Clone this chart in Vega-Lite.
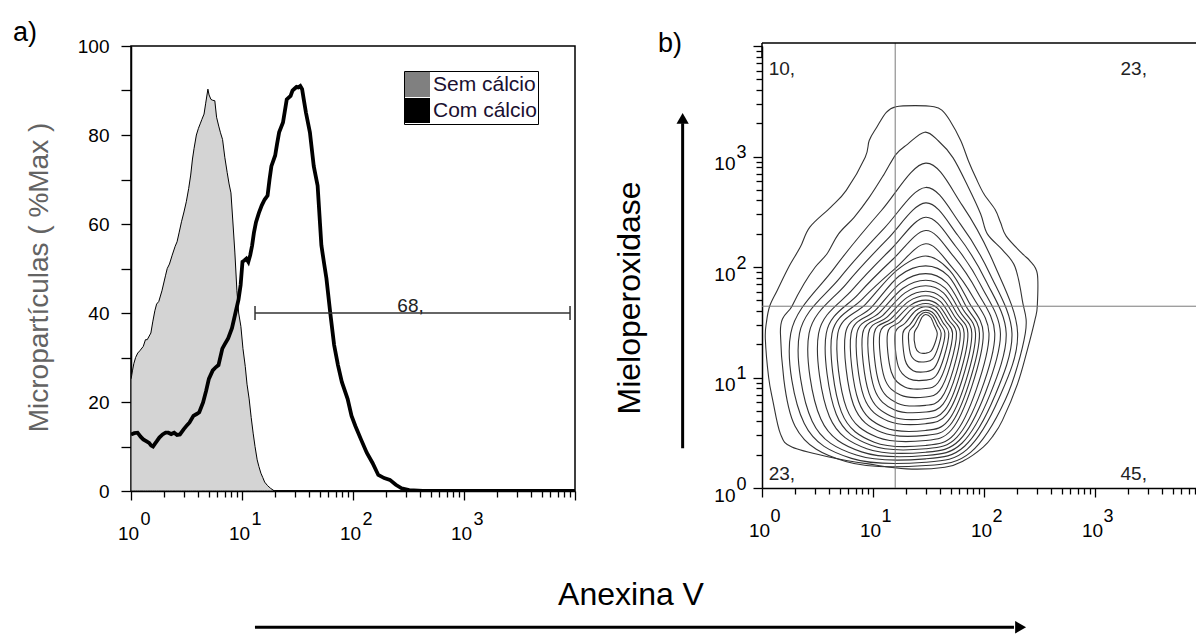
{
  "$schema": "https://vega.github.io/schema/vega-lite/v6.json",
  "padding": {"left": 12, "top": 18, "right": 0, "bottom": 0},
  "background": "white",
  "bounds": "flush",
  "spacing": 187,
  "config": {
    "font": "Liberation Sans",
    "view": {"stroke": "black", "strokeWidth": 1.5},
    "title": {"fontWeight": "normal", "font": "Liberation Sans", "color": "black"},
    "axis": {"domainColor": "black", "domainWidth": 1.5, "tickColor": "black", "tickWidth": 1.3, "labelColor": "black", "labelFont": "Liberation Sans", "labelFontSize": 19, "grid": false, "labelOverlap": false, "labelFlush": false, "labelBound": false, "titleFont": "Liberation Sans", "titleFontWeight": "normal"}
  },
  "datasets": {
    "hist": [
      {"serie": "Sem cálcio", "x": 1.0, "pct": 25}, {"serie": "Sem cálcio", "x": 1.03, "pct": 27}, {"serie": "Sem cálcio", "x": 1.06, "pct": 28.6}, {"serie": "Sem cálcio", "x": 1.1, "pct": 30}, {"serie": "Sem cálcio", "x": 1.15, "pct": 31}, {"serie": "Sem cálcio", "x": 1.2, "pct": 31.5}, {"serie": "Sem cálcio", "x": 1.29, "pct": 32.5}, {"serie": "Sem cálcio", "x": 1.35, "pct": 34}, {"serie": "Sem cálcio", "x": 1.4, "pct": 34}, {"serie": "Sem cálcio", "x": 1.51, "pct": 35.5}, {"serie": "Sem cálcio", "x": 1.57, "pct": 38}, {"serie": "Sem cálcio", "x": 1.64, "pct": 40.5}, {"serie": "Sem cálcio", "x": 1.7, "pct": 42}, {"serie": "Sem cálcio", "x": 1.78, "pct": 42.6}, {"serie": "Sem cálcio", "x": 1.9, "pct": 45}, {"serie": "Sem cálcio", "x": 2.05, "pct": 48.5}, {"serie": "Sem cálcio", "x": 2.12, "pct": 50}, {"serie": "Sem cálcio", "x": 2.22, "pct": 51}, {"serie": "Sem cálcio", "x": 2.35, "pct": 53}, {"serie": "Sem cálcio", "x": 2.5, "pct": 55}, {"serie": "Sem cálcio", "x": 2.6, "pct": 56}, {"serie": "Sem cálcio", "x": 2.71, "pct": 58}, {"serie": "Sem cálcio", "x": 2.85, "pct": 60.5}, {"serie": "Sem cálcio", "x": 3.0, "pct": 62.7}, {"serie": "Sem cálcio", "x": 3.15, "pct": 65}, {"serie": "Sem cálcio", "x": 3.31, "pct": 68}, {"serie": "Sem cálcio", "x": 3.45, "pct": 71}, {"serie": "Sem cálcio", "x": 3.58, "pct": 74.6}, {"serie": "Sem cálcio", "x": 3.7, "pct": 77}, {"serie": "Sem cálcio", "x": 3.88, "pct": 80}, {"serie": "Sem cálcio", "x": 4.05, "pct": 81.5}, {"serie": "Sem cálcio", "x": 4.2, "pct": 82.5}, {"serie": "Sem cálcio", "x": 4.35, "pct": 83.5}, {"serie": "Sem cálcio", "x": 4.55, "pct": 84.7}, {"serie": "Sem cálcio", "x": 4.7, "pct": 87}, {"serie": "Sem cálcio", "x": 4.93, "pct": 90.3}, {"serie": "Sem cálcio", "x": 5.05, "pct": 89}, {"serie": "Sem cálcio", "x": 5.25, "pct": 88}, {"serie": "Sem cálcio", "x": 5.45, "pct": 87.8}, {"serie": "Sem cálcio", "x": 5.69, "pct": 87.7}, {"serie": "Sem cálcio", "x": 5.9, "pct": 84}, {"serie": "Sem cálcio", "x": 6.17, "pct": 82}, {"serie": "Sem cálcio", "x": 6.4, "pct": 80.5}, {"serie": "Sem cálcio", "x": 6.68, "pct": 79}, {"serie": "Sem cálcio", "x": 7.0, "pct": 75}, {"serie": "Sem cálcio", "x": 7.35, "pct": 71.6}, {"serie": "Sem cálcio", "x": 7.65, "pct": 69}, {"serie": "Sem cálcio", "x": 7.95, "pct": 67}, {"serie": "Sem cálcio", "x": 8.3, "pct": 60}, {"serie": "Sem cálcio", "x": 8.62, "pct": 53.7}, {"serie": "Sem cálcio", "x": 9.0, "pct": 45}, {"serie": "Sem cálcio", "x": 9.33, "pct": 40}, {"serie": "Sem cálcio", "x": 9.77, "pct": 37}, {"serie": "Sem cálcio", "x": 10.2, "pct": 32}, {"serie": "Sem cálcio", "x": 10.7, "pct": 28}, {"serie": "Sem cálcio", "x": 11.1, "pct": 24}, {"serie": "Sem cálcio", "x": 11.6, "pct": 20.7}, {"serie": "Sem cálcio", "x": 12.1, "pct": 16.5}, {"serie": "Sem cálcio", "x": 12.6, "pct": 13}, {"serie": "Sem cálcio", "x": 13.1, "pct": 10}, {"serie": "Sem cálcio", "x": 13.7, "pct": 7}, {"serie": "Sem cálcio", "x": 14.2, "pct": 5.5}, {"serie": "Sem cálcio", "x": 14.8, "pct": 4}, {"serie": "Sem cálcio", "x": 15.4, "pct": 3}, {"serie": "Sem cálcio", "x": 16, "pct": 2}, {"serie": "Sem cálcio", "x": 17, "pct": 1.2}, {"serie": "Sem cálcio", "x": 18.1, "pct": 0.6}, {"serie": "Sem cálcio", "x": 19.6, "pct": 0}, {"serie": "Sem cálcio", "x": 100, "pct": 0}, {"serie": "Sem cálcio", "x": 10000, "pct": 0},
      {"serie": "Com cálcio", "x": 1.0, "pct": 12.7}, {"serie": "Com cálcio", "x": 1.07, "pct": 13}, {"serie": "Com cálcio", "x": 1.146, "pct": 13.1}, {"serie": "Com cálcio", "x": 1.22, "pct": 12.2}, {"serie": "Com cálcio", "x": 1.29, "pct": 11.6}, {"serie": "Com cálcio", "x": 1.37, "pct": 11.2}, {"serie": "Com cálcio", "x": 1.456, "pct": 10.8}, {"serie": "Com cálcio", "x": 1.52, "pct": 10.2}, {"serie": "Com cálcio", "x": 1.578, "pct": 10}, {"serie": "Com cálcio", "x": 1.64, "pct": 10.6}, {"serie": "Com cálcio", "x": 1.709, "pct": 11.2}, {"serie": "Com cálcio", "x": 1.8, "pct": 12}, {"serie": "Com cálcio", "x": 1.926, "pct": 12.7}, {"serie": "Com cálcio", "x": 2.05, "pct": 13.1}, {"serie": "Com cálcio", "x": 2.17, "pct": 13.1}, {"serie": "Com cálcio", "x": 2.3, "pct": 12.8}, {"serie": "Com cálcio", "x": 2.45, "pct": 13.1}, {"serie": "Com cálcio", "x": 2.6, "pct": 12.6}, {"serie": "Com cálcio", "x": 2.76, "pct": 12.7}, {"serie": "Com cálcio", "x": 2.99, "pct": 13.9}, {"serie": "Com cálcio", "x": 3.2, "pct": 14.8}, {"serie": "Com cálcio", "x": 3.37, "pct": 15.4}, {"serie": "Com cálcio", "x": 3.65, "pct": 16.9}, {"serie": "Com cálcio", "x": 3.9, "pct": 17.3}, {"serie": "Com cálcio", "x": 4.12, "pct": 17.7}, {"serie": "Com cálcio", "x": 4.46, "pct": 19.9}, {"serie": "Com cálcio", "x": 4.75, "pct": 22.5}, {"serie": "Com cálcio", "x": 5.03, "pct": 25.2}, {"serie": "Com cálcio", "x": 5.45, "pct": 27.1}, {"serie": "Com cálcio", "x": 5.8, "pct": 27.8}, {"serie": "Com cálcio", "x": 6.14, "pct": 28.3}, {"serie": "Com cálcio", "x": 6.65, "pct": 32}, {"serie": "Com cálcio", "x": 7.0, "pct": 33}, {"serie": "Com cálcio", "x": 7.5, "pct": 34.3}, {"serie": "Com cálcio", "x": 8.12, "pct": 36.6}, {"serie": "Com cálcio", "x": 8.8, "pct": 40.4}, {"serie": "Com cálcio", "x": 9.3, "pct": 43}, {"serie": "Com cálcio", "x": 9.72, "pct": 46.3}, {"serie": "Com cálcio", "x": 10.1, "pct": 51.5}, {"serie": "Com cálcio", "x": 10.5, "pct": 51.8}, {"serie": "Com cálcio", "x": 10.95, "pct": 52.2}, {"serie": "Com cálcio", "x": 11.4, "pct": 51.5}, {"serie": "Com cálcio", "x": 11.86, "pct": 53}, {"serie": "Com cálcio", "x": 12.34, "pct": 55.2}, {"serie": "Com cálcio", "x": 12.8, "pct": 58}, {"serie": "Com cálcio", "x": 13.37, "pct": 60.4}, {"serie": "Com cálcio", "x": 14.2, "pct": 62.5}, {"serie": "Com cálcio", "x": 15.07, "pct": 64.2}, {"serie": "Com cálcio", "x": 16, "pct": 65.5}, {"serie": "Com cálcio", "x": 17, "pct": 66.4}, {"serie": "Com cálcio", "x": 17.7, "pct": 70}, {"serie": "Com cálcio", "x": 18.4, "pct": 73}, {"serie": "Com cálcio", "x": 19.9, "pct": 75.4}, {"serie": "Com cálcio", "x": 20.7, "pct": 78}, {"serie": "Com cálcio", "x": 21.6, "pct": 80.6}, {"serie": "Com cálcio", "x": 23.4, "pct": 82.8}, {"serie": "Com cálcio", "x": 25.3, "pct": 88}, {"serie": "Com cálcio", "x": 27.4, "pct": 88.8}, {"serie": "Com cálcio", "x": 28.5, "pct": 90}, {"serie": "Com cálcio", "x": 29.7, "pct": 90.4}, {"serie": "Com cálcio", "x": 31, "pct": 90.8}, {"serie": "Com cálcio", "x": 32.2, "pct": 90.7}, {"serie": "Com cálcio", "x": 33.5, "pct": 91}, {"serie": "Com cálcio", "x": 34.8, "pct": 90.3}, {"serie": "Com cálcio", "x": 36, "pct": 88}, {"serie": "Com cálcio", "x": 37.7, "pct": 85}, {"serie": "Com cálcio", "x": 40.9, "pct": 80.6}, {"serie": "Com cálcio", "x": 44.3, "pct": 73}, {"serie": "Com cálcio", "x": 48, "pct": 68.6}, {"serie": "Com cálcio", "x": 51.9, "pct": 55.2}, {"serie": "Com cálcio", "x": 55, "pct": 51}, {"serie": "Com cálcio", "x": 57.6, "pct": 47.8}, {"serie": "Com cálcio", "x": 62.4, "pct": 40}, {"serie": "Com cálcio", "x": 67.6, "pct": 32.8}, {"serie": "Com cálcio", "x": 73.2, "pct": 28.3}, {"serie": "Com cálcio", "x": 79.3, "pct": 24.5}, {"serie": "Com cálcio", "x": 89.4, "pct": 20.7}, {"serie": "Com cálcio", "x": 96.9, "pct": 16.9}, {"serie": "Com cálcio", "x": 105, "pct": 14.6}, {"serie": "Com cálcio", "x": 118, "pct": 11.6}, {"serie": "Com cálcio", "x": 133, "pct": 8.6}, {"serie": "Com cálcio", "x": 150, "pct": 6.3}, {"serie": "Com cálcio", "x": 169, "pct": 3.6}, {"serie": "Com cálcio", "x": 191, "pct": 2.9}, {"serie": "Com cálcio", "x": 215, "pct": 2.5}, {"serie": "Com cálcio", "x": 243, "pct": 1.4}, {"serie": "Com cálcio", "x": 274, "pct": 0.6}, {"serie": "Com cálcio", "x": 321, "pct": 0.2}, {"serie": "Com cálcio", "x": 425, "pct": 0}, {"serie": "Com cálcio", "x": 1000, "pct": 0}, {"serie": "Com cálcio", "x": 10000, "pct": 0}
    ],
    "contours": [
      {"c":0,"i":0,"x":1.207,"y":3.45},{"c":0,"i":1,"x":1.38,"y":3.46},{"c":0,"i":2,"x":1.55,"y":3.45},{"c":0,"i":3,"x":1.62,"y":3.42},{"c":0,"i":4,"x":1.69,"y":3.33},{"c":0,"i":5,"x":1.79,"y":3.145},{"c":0,"i":6,"x":1.86,"y":2.96},{"c":0,"i":7,"x":1.93,"y":2.8},{"c":0,"i":8,"x":2.0,"y":2.66},{"c":0,"i":9,"x":2.1,"y":2.52},{"c":0,"i":10,"x":2.15,"y":2.4},{"c":0,"i":11,"x":2.2,"y":2.28},{"c":0,"i":12,"x":2.345,"y":2.12},{"c":0,"i":13,"x":2.41,"y":2.06},{"c":0,"i":14,"x":2.48,"y":1.94},{"c":0,"i":15,"x":2.48,"y":1.645},{"c":0,"i":16,"x":2.459,"y":1.521},{"c":0,"i":17,"x":2.39,"y":1.248},{"c":0,"i":18,"x":2.303,"y":0.945},{"c":0,"i":19,"x":2.166,"y":0.612},{"c":0,"i":20,"x":2.08,"y":0.47},{"c":0,"i":21,"x":1.993,"y":0.37},{"c":0,"i":22,"x":1.82,"y":0.248},{"c":0,"i":23,"x":1.648,"y":0.188},{"c":0,"i":24,"x":1.303,"y":0.173},{"c":0,"i":25,"x":0.959,"y":0.218},{"c":0,"i":26,"x":0.614,"y":0.279},{"c":0,"i":27,"x":0.269,"y":0.37},{"c":0,"i":28,"x":0.166,"y":0.49},{"c":0,"i":29,"x":0.097,"y":0.794},{"c":0,"i":30,"x":0.06,"y":1.0},{"c":0,"i":31,"x":0.03,"y":1.35},{"c":0,"i":32,"x":0.04,"y":1.5},{"c":0,"i":33,"x":0.069,"y":1.645},{"c":0,"i":34,"x":0.138,"y":1.79},{"c":0,"i":35,"x":0.241,"y":2.0},{"c":0,"i":36,"x":0.345,"y":2.18},{"c":0,"i":37,"x":0.431,"y":2.361},{"c":0,"i":38,"x":0.62,"y":2.542},{"c":0,"i":39,"x":0.759,"y":2.693},{"c":0,"i":40,"x":0.93,"y":2.994},{"c":0,"i":41,"x":0.966,"y":3.145},{"c":0,"i":42,"x":1.034,"y":3.265},{"c":0,"i":43,"x":1.12,"y":3.4},
      {"c":1,"i":0,"x":1.466,"y":3.22},{"c":1,"i":1,"x":1.59,"y":3.14},{"c":1,"i":2,"x":1.72,"y":2.99},{"c":1,"i":3,"x":1.86,"y":2.72},{"c":1,"i":4,"x":1.97,"y":2.48},{"c":1,"i":5,"x":2.03,"y":2.3},{"c":1,"i":6,"x":2.17,"y":2.15},{"c":1,"i":7,"x":2.28,"y":2.0},{"c":1,"i":8,"x":2.345,"y":1.7},{"c":1,"i":9,"x":2.372,"y":1.4},{"c":1,"i":10,"x":2.193,"y":0.801},{"c":1,"i":11,"x":1.879,"y":0.323},{"c":1,"i":12,"x":1.475,"y":0.203},{"c":1,"i":13,"x":0.755,"y":0.239},{"c":1,"i":14,"x":0.297,"y":0.562},{"c":1,"i":15,"x":0.166,"y":1.4},{"c":1,"i":16,"x":0.27,"y":1.645},{"c":1,"i":17,"x":0.38,"y":1.85},{"c":1,"i":18,"x":0.48,"y":2.0},{"c":1,"i":19,"x":0.586,"y":2.12},{"c":1,"i":20,"x":0.69,"y":2.3},{"c":1,"i":21,"x":0.83,"y":2.45},{"c":1,"i":22,"x":0.966,"y":2.63},{"c":1,"i":23,"x":1.1,"y":2.84},{"c":1,"i":24,"x":1.207,"y":3.02},{"c":1,"i":25,"x":1.31,"y":3.11},
      {"c":2,"i":0,"x":1.475,"y":2.94},{"c":2,"i":1,"x":1.806,"y":2.555},{"c":2,"i":2,"x":2.096,"y":2.016},{"c":2,"i":3,"x":2.303,"y":1.4},{"c":2,"i":4,"x":2.137,"y":0.816},{"c":2,"i":5,"x":1.848,"y":0.35},{"c":2,"i":6,"x":1.475,"y":0.233},{"c":2,"i":7,"x":0.806,"y":0.268},{"c":2,"i":8,"x":0.381,"y":0.583},{"c":2,"i":9,"x":0.259,"y":1.4},{"c":2,"i":10,"x":0.648,"y":1.985},{"c":2,"i":11,"x":1.074,"y":2.509},
      {"c":3,"i":0,"x":1.475,"y":2.72},{"c":3,"i":1,"x":1.786,"y":2.39},{"c":3,"i":2,"x":2.058,"y":1.928},{"c":3,"i":3,"x":2.252,"y":1.4},{"c":3,"i":4,"x":2.097,"y":0.832},{"c":3,"i":5,"x":1.825,"y":0.378},{"c":3,"i":6,"x":1.475,"y":0.264},{"c":3,"i":7,"x":0.85,"y":0.298},{"c":3,"i":8,"x":0.452,"y":0.605},{"c":3,"i":9,"x":0.338,"y":1.4},{"c":3,"i":10,"x":0.702,"y":1.902},{"c":3,"i":11,"x":1.1,"y":2.35},
      {"c":4,"i":0,"x":1.475,"y":2.58},{"c":4,"i":1,"x":1.765,"y":2.285},{"c":4,"i":2,"x":2.019,"y":1.872},{"c":4,"i":3,"x":2.2,"y":1.4},{"c":4,"i":4,"x":2.055,"y":0.847},{"c":4,"i":5,"x":1.801,"y":0.405},{"c":4,"i":6,"x":1.475,"y":0.294},{"c":4,"i":7,"x":0.897,"y":0.327},{"c":4,"i":8,"x":0.529,"y":0.626},{"c":4,"i":9,"x":0.424,"y":1.4},{"c":4,"i":10,"x":0.76,"y":1.848},{"c":4,"i":11,"x":1.128,"y":2.25},
      {"c":5,"i":0,"x":1.475,"y":2.45},{"c":5,"i":1,"x":1.744,"y":2.188},{"c":5,"i":2,"x":1.98,"y":1.82},{"c":5,"i":3,"x":2.148,"y":1.4},{"c":5,"i":4,"x":2.013,"y":0.862},{"c":5,"i":5,"x":1.778,"y":0.432},{"c":5,"i":6,"x":1.475,"y":0.324},{"c":5,"i":7,"x":0.944,"y":0.356},{"c":5,"i":8,"x":0.607,"y":0.647},{"c":5,"i":9,"x":0.51,"y":1.4},{"c":5,"i":10,"x":0.819,"y":1.799},{"c":5,"i":11,"x":1.157,"y":2.156},
      {"c":6,"i":0,"x":1.475,"y":2.33},{"c":6,"i":1,"x":1.724,"y":2.098},{"c":6,"i":2,"x":1.942,"y":1.772},{"c":6,"i":3,"x":2.097,"y":1.4},{"c":6,"i":4,"x":1.973,"y":0.877},{"c":6,"i":5,"x":1.755,"y":0.459},{"c":6,"i":6,"x":1.475,"y":0.355},{"c":6,"i":7,"x":0.982,"y":0.386},{"c":6,"i":8,"x":0.669,"y":0.668},{"c":6,"i":9,"x":0.579,"y":1.4},{"c":6,"i":10,"x":0.866,"y":1.753},{"c":6,"i":11,"x":1.179,"y":2.07},
      {"c":7,"i":0,"x":1.475,"y":2.21},{"c":7,"i":1,"x":1.703,"y":2.008},{"c":7,"i":2,"x":1.903,"y":1.724},{"c":7,"i":3,"x":2.045,"y":1.4},{"c":7,"i":4,"x":1.931,"y":0.892},{"c":7,"i":5,"x":1.732,"y":0.486},{"c":7,"i":6,"x":1.475,"y":0.385},{"c":7,"i":7,"x":1.011,"y":0.415},{"c":7,"i":8,"x":0.715,"y":0.689},{"c":7,"i":9,"x":0.631,"y":1.4},{"c":7,"i":10,"x":0.901,"y":1.708},{"c":7,"i":11,"x":1.196,"y":1.983},
      {"c":8,"i":0,"x":1.475,"y":2.1},{"c":8,"i":1,"x":1.69,"y":1.97},{"c":8,"i":2,"x":1.864,"y":1.68},{"c":8,"i":3,"x":1.993,"y":1.4},{"c":8,"i":4,"x":1.889,"y":0.915},{"c":8,"i":5,"x":1.708,"y":0.527},{"c":8,"i":6,"x":1.475,"y":0.43},{"c":8,"i":7,"x":1.039,"y":0.459},{"c":8,"i":8,"x":0.762,"y":0.721},{"c":8,"i":9,"x":0.683,"y":1.4},{"c":8,"i":10,"x":0.936,"y":1.666},{"c":8,"i":11,"x":1.214,"y":1.97},
      {"c":9,"i":0,"x":1.475,"y":2.01},{"c":9,"i":1,"x":1.678,"y":1.919},{"c":9,"i":2,"x":1.838,"y":1.644},{"c":9,"i":3,"x":1.959,"y":1.4},{"c":9,"i":4,"x":1.862,"y":0.938},{"c":9,"i":5,"x":1.693,"y":0.568},{"c":9,"i":6,"x":1.475,"y":0.476},{"c":9,"i":7,"x":1.077,"y":0.504},{"c":9,"i":8,"x":0.824,"y":0.753},{"c":9,"i":9,"x":0.752,"y":1.4},{"c":9,"i":10,"x":0.983,"y":1.632},{"c":9,"i":11,"x":1.236,"y":1.919},
      {"c":10,"i":0,"x":1.475,"y":1.94},{"c":10,"i":1,"x":1.664,"y":1.859},{"c":10,"i":2,"x":1.812,"y":1.616},{"c":10,"i":3,"x":1.924,"y":1.4},{"c":10,"i":4,"x":1.834,"y":0.96},{"c":10,"i":5,"x":1.677,"y":0.609},{"c":10,"i":6,"x":1.475,"y":0.521},{"c":10,"i":7,"x":1.105,"y":0.547},{"c":10,"i":8,"x":0.87,"y":0.785},{"c":10,"i":9,"x":0.803,"y":1.4},{"c":10,"i":10,"x":1.018,"y":1.605},{"c":10,"i":11,"x":1.253,"y":1.859},
      {"c":11,"i":0,"x":1.475,"y":1.88},{"c":11,"i":1,"x":1.649,"y":1.808},{"c":11,"i":2,"x":1.786,"y":1.592},{"c":11,"i":3,"x":1.89,"y":1.4},{"c":11,"i":4,"x":1.807,"y":0.991},{"c":11,"i":5,"x":1.662,"y":0.664},{"c":11,"i":6,"x":1.475,"y":0.582},{"c":11,"i":7,"x":1.134,"y":0.607},{"c":11,"i":8,"x":0.917,"y":0.827},{"c":11,"i":9,"x":0.855,"y":1.4},{"c":11,"i":10,"x":1.053,"y":1.582},{"c":11,"i":11,"x":1.27,"y":1.808},
      {"c":12,"i":0,"x":1.475,"y":1.83},{"c":12,"i":1,"x":1.635,"y":1.766},{"c":12,"i":2,"x":1.76,"y":1.572},{"c":12,"i":3,"x":1.855,"y":1.4},{"c":12,"i":4,"x":1.779,"y":1.013},{"c":12,"i":5,"x":1.646,"y":0.704},{"c":12,"i":6,"x":1.475,"y":0.627},{"c":12,"i":7,"x":1.163,"y":0.65},{"c":12,"i":8,"x":0.964,"y":0.859},{"c":12,"i":9,"x":0.907,"y":1.4},{"c":12,"i":10,"x":1.089,"y":1.563},{"c":12,"i":11,"x":1.288,"y":1.766},
      {"c":13,"i":0,"x":1.475,"y":1.78},{"c":13,"i":1,"x":1.62,"y":1.723},{"c":13,"i":2,"x":1.735,"y":1.552},{"c":13,"i":3,"x":1.821,"y":1.4},{"c":13,"i":4,"x":1.752,"y":1.044},{"c":13,"i":5,"x":1.631,"y":0.759},{"c":13,"i":6,"x":1.475,"y":0.688},{"c":13,"i":7,"x":1.191,"y":0.709},{"c":13,"i":8,"x":1.011,"y":0.902},{"c":13,"i":9,"x":0.959,"y":1.4},{"c":13,"i":10,"x":1.124,"y":1.544},{"c":13,"i":11,"x":1.305,"y":1.723},
      {"c":14,"i":0,"x":1.475,"y":1.74},{"c":14,"i":1,"x":1.606,"y":1.689},{"c":14,"i":2,"x":1.708,"y":1.536},{"c":14,"i":3,"x":1.786,"y":1.4},{"c":14,"i":4,"x":1.724,"y":1.074},{"c":14,"i":5,"x":1.615,"y":0.813},{"c":14,"i":6,"x":1.475,"y":0.748},{"c":14,"i":7,"x":1.219,"y":0.768},{"c":14,"i":8,"x":1.056,"y":0.944},{"c":14,"i":9,"x":1.01,"y":1.4},{"c":14,"i":10,"x":1.159,"y":1.529},{"c":14,"i":11,"x":1.322,"y":1.689},
      {"c":15,"i":0,"x":1.475,"y":1.7},{"c":15,"i":1,"x":1.591,"y":1.655},{"c":15,"i":2,"x":1.683,"y":1.52},{"c":15,"i":3,"x":1.752,"y":1.4},{"c":15,"i":4,"x":1.697,"y":1.112},{"c":15,"i":5,"x":1.6,"y":0.882},{"c":15,"i":6,"x":1.475,"y":0.824},{"c":15,"i":7,"x":1.248,"y":0.841},{"c":15,"i":8,"x":1.103,"y":0.997},{"c":15,"i":9,"x":1.062,"y":1.4},{"c":15,"i":10,"x":1.194,"y":1.514},{"c":15,"i":11,"x":1.339,"y":1.655},
      {"c":16,"i":0,"x":1.475,"y":1.67},{"c":16,"i":1,"x":1.577,"y":1.63},{"c":16,"i":2,"x":1.657,"y":1.508},{"c":16,"i":3,"x":1.717,"y":1.4},{"c":16,"i":4,"x":1.669,"y":1.15},{"c":16,"i":5,"x":1.584,"y":0.95},{"c":16,"i":6,"x":1.475,"y":0.9},{"c":16,"i":7,"x":1.286,"y":0.915},{"c":16,"i":8,"x":1.165,"y":1.05},{"c":16,"i":9,"x":1.131,"y":1.4},{"c":16,"i":10,"x":1.241,"y":1.503},{"c":16,"i":11,"x":1.361,"y":1.63},
      {"c":17,"i":0,"x":1.475,"y":1.64},{"c":17,"i":1,"x":1.562,"y":1.604},{"c":17,"i":2,"x":1.631,"y":1.496},{"c":17,"i":3,"x":1.683,"y":1.4},{"c":17,"i":4,"x":1.641,"y":1.188},{"c":17,"i":5,"x":1.569,"y":1.018},{"c":17,"i":6,"x":1.475,"y":0.976},{"c":17,"i":7,"x":1.324,"y":0.989},{"c":17,"i":8,"x":1.227,"y":1.103},{"c":17,"i":9,"x":1.2,"y":1.4},{"c":17,"i":10,"x":1.288,"y":1.491},{"c":17,"i":11,"x":1.384,"y":1.604},
      {"c":18,"i":0,"x":1.475,"y":1.61},{"c":18,"i":1,"x":1.548,"y":1.579},{"c":18,"i":2,"x":1.605,"y":1.484},{"c":18,"i":3,"x":1.648,"y":1.4},{"c":18,"i":4,"x":1.613,"y":1.226},{"c":18,"i":5,"x":1.553,"y":1.087},{"c":18,"i":6,"x":1.475,"y":1.052},{"c":18,"i":7,"x":1.362,"y":1.062},{"c":18,"i":8,"x":1.29,"y":1.156},{"c":18,"i":9,"x":1.269,"y":1.4},{"c":18,"i":10,"x":1.335,"y":1.48},{"c":18,"i":11,"x":1.407,"y":1.579},
      {"c":19,"i":0,"x":1.475,"y":1.59},{"c":19,"i":1,"x":1.533,"y":1.562},{"c":19,"i":2,"x":1.579,"y":1.476},{"c":19,"i":3,"x":1.614,"y":1.4},{"c":19,"i":4,"x":1.586,"y":1.271},{"c":19,"i":5,"x":1.538,"y":1.168},{"c":19,"i":6,"x":1.475,"y":1.142},{"c":19,"i":7,"x":1.39,"y":1.15},{"c":19,"i":8,"x":1.336,"y":1.219},{"c":19,"i":9,"x":1.321,"y":1.4},{"c":19,"i":10,"x":1.37,"y":1.472},{"c":19,"i":11,"x":1.424,"y":1.562},
      {"c":20,"i":0,"x":1.475,"y":1.57},{"c":20,"i":1,"x":1.519,"y":1.545},{"c":20,"i":2,"x":1.553,"y":1.468},{"c":20,"i":3,"x":1.579,"y":1.4},{"c":20,"i":4,"x":1.558,"y":1.31},{"c":20,"i":5,"x":1.522,"y":1.238},{"c":20,"i":6,"x":1.475,"y":1.22},{"c":20,"i":7,"x":1.418,"y":1.225},{"c":20,"i":8,"x":1.382,"y":1.274},{"c":20,"i":9,"x":1.372,"y":1.4},{"c":20,"i":10,"x":1.405,"y":1.465},{"c":20,"i":11,"x":1.441,"y":1.545}
    ]
  },
  "hconcat": [
    {
      "width": 444,
      "height": 445,
      "title": {"text": "a)", "anchor": "start", "frame": "group", "dx": -118, "fontSize": 27, "offset": -10},
      "data": {"name": "hist"},
      "resolve": {"axis": {"x": "independent"}},
      "layer": [
        {
          "transform": [{"filter": "datum.serie === 'Sem cálcio'"}],
          "mark": {"type": "area", "fill": "#d4d4d4", "stroke": "black", "strokeWidth": 1, "clip": true},
          "encoding": {
            "x": {"field": "x", "type": "quantitative", "scale": {"type": "log", "domain": [1, 10000], "nice": false},
              "axis": {"orient": "bottom", "title": null, "values": [1,2,3,4,5,6,7,8,9,10,20,30,40,50,60,70,80,90,100,200,300,400,500,600,700,800,900,1000,2000,3000,4000,5000,6000,7000,8000,9000,10000],
                "labelExpr": "datum.value == 1 || datum.value == 10 || datum.value == 100 || datum.value == 1000 ? '10' : ''",
                "tickSize": {"condition": {"test": "datum.value == 1 || datum.value == 10 || datum.value == 100 || datum.value == 1000 || datum.value == 10000", "value": 9}, "value": 6},
                "labelPadding": 24, "labelOffset": -3, "labelOverlap": false}},
            "y": {"field": "pct", "type": "quantitative", "scale": {"domain": [0, 100], "nice": false},
              "axis": {"values": [0,5,10,15,20,25,30,35,40,45,50,55,60,65,70,75,80,85,90,95,100], "labelExpr": "datum.value % 20 === 0 ? datum.label : ''", "tickSize": 10, "labelPadding": 12, "labelOverlap": false,
                "title": "Micropartículas ( %Max )", "titleFontSize": 28, "titleColor": "#636363", "titlePadding": 24, "titleY": 231}}
          }
        },
        {
          "transform": [{"filter": "datum.serie === 'Com cálcio'"}],
          "mark": {"type": "line", "color": "black", "strokeWidth": 3.8, "clip": true},
          "encoding": {
            "x": {"field": "x", "type": "quantitative",
              "axis": {"orient": "bottom", "title": null, "values": [1, 10, 100, 1000], "labelExpr": "datum.value == 1 ? '0' : datum.value == 10 ? '1' : datum.value == 100 ? '2' : '3'",
                "domain": false, "tickSize": 9, "tickOpacity": 0, "labelPadding": 10, "labelOffset": 14, "labelFontSize": 18, "labelOverlap": false}},
            "y": {"field": "pct", "type": "quantitative"}
          }
        },
        {
          "data": {"values": [{}]},
          "mark": {"type": "rule", "color": "#333333", "strokeWidth": 1.5},
          "encoding": {"x": {"datum": 13.1, "axis": null}, "x2": {"datum": 9020}, "y": {"datum": 40}}
        },
        {
          "data": {"values": [{}]},
          "mark": {"type": "rule", "color": "#333333", "strokeWidth": 1.5},
          "encoding": {"x": {"datum": 13.1, "axis": null}, "y": {"datum": 38.4}, "y2": {"datum": 41.6}}
        },
        {
          "data": {"values": [{}]},
          "mark": {"type": "rule", "color": "#333333", "strokeWidth": 1.5},
          "encoding": {"x": {"datum": 9020, "axis": null}, "y": {"datum": 38.4}, "y2": {"datum": 41.6}}
        },
        {
          "data": {"values": [{}]},
          "mark": {"type": "text", "text": "68,", "fontSize": 19, "align": "center", "baseline": "alphabetic", "dy": -1, "color": "#222222"},
          "encoding": {"x": {"datum": 330, "axis": null}, "y": {"datum": 40}}
        },
        {
          "mark": {"type": "square", "opacity": 0, "size": 1},
          "encoding": {
            "x": {"field": "x", "type": "quantitative", "axis": null},
            "y": {"field": "pct", "type": "quantitative"},
            "color": {"field": "serie", "type": "nominal", "scale": {"domain": ["Sem cálcio", "Com cálcio"], "range": ["#808080", "#000000"]},
              "legend": {"title": null, "orient": "none", "legendX": 273, "legendY": 25, "symbolType": "square", "symbolSize": 625, "symbolOpacity": 1, "symbolStrokeWidth": 0,
                "labelFontSize": 21, "labelFont": "Liberation Sans", "labelColor": "#1a1030", "padding": 1, "rowPadding": 1, "strokeColor": "black", "fillColor": "white", "labelOffset": 3, "labelLimit": 0}}
          }
        }
      ]
    },
    {
      "width": 434,
      "height": 442,
      "view": {"stroke": null},
      "title": {"text": "b)", "anchor": "start", "frame": "group", "dx": -104, "fontSize": 27, "offset": -16},
      "resolve": {"axis": {"x": "independent", "y": "independent"}},
      "layer": [
        {
          "data": {"name": "contours"},
          "mark": {"type": "line", "interpolate": "cardinal-closed", "color": "#333333", "strokeWidth": 1.1},
          "encoding": {
            "x": {"field": "x", "type": "quantitative", "scale": {"domain": [0, 3.91], "nice": false, "zero": false},
              "axis": {"orient": "bottom", "title": null, "values": [0,0.301,0.477,0.602,0.699,0.778,0.845,0.903,0.954,1,1.301,1.477,1.602,1.699,1.778,1.845,1.903,1.954,2,2.301,2.477,2.602,2.699,2.778,2.845,2.903,2.954,3,3.301,3.477,3.602,3.699,3.778,3.845,3.903],
                "labelExpr": "abs(datum.value - round(datum.value)) < 0.001 ? '10' : ''",
                "tickSize": {"condition": {"test": "abs(datum.value - round(datum.value)) < 0.001", "value": 9}, "value": 6}, "labelPadding": 24, "labelOffset": -3, "labelOverlap": false}},
            "y": {"field": "y", "type": "quantitative", "scale": {"domain": [0, 4], "nice": false, "zero": false},
              "axis": {"orient": "left", "title": null, "values": [0,0.301,0.477,0.602,0.699,0.778,0.845,0.903,0.954,1,1.301,1.477,1.602,1.699,1.778,1.845,1.903,1.954,2,2.301,2.477,2.602,2.699,2.778,2.845,2.903,2.954,3,3.301,3.477,3.602,3.699,3.778,3.845,3.903,3.954,4],
                "labelExpr": "abs(datum.value - round(datum.value)) < 0.001 && datum.value < 3.5 ? '10' : ''",
                "tickSize": {"condition": {"test": "abs(datum.value - round(datum.value)) < 0.001", "value": 9}, "value": 6}, "labelPadding": 18, "labelOffset": 7, "labelOverlap": false}},
            "detail": {"field": "c", "type": "nominal"},
            "order": {"field": "i", "type": "quantitative"}
          }
        },
        {
          "data": {"values": [{}]},
          "mark": {"type": "rule", "color": "#7a7a7a", "strokeWidth": 1},
          "encoding": {"x": {"datum": 1.2, "axis": {"orient": "bottom", "title": null, "values": [0, 1, 2, 3], "labelExpr": "'' + round(datum.value)", "domain": false, "tickSize": 9, "tickOpacity": 0, "labelPadding": 10, "labelOffset": 13, "labelFontSize": 18, "labelOverlap": false}},
            "y": {"datum": 0, "axis": null}, "y2": {"datum": 4.027}}
        },
        {
          "data": {"values": [{}]},
          "mark": {"type": "rule", "color": "#7a7a7a", "strokeWidth": 1},
          "encoding": {"y": {"datum": 1.645, "axis": {"orient": "left", "title": null, "values": [0, 1, 2, 3], "labelExpr": "'' + round(datum.value)", "domain": false, "tickSize": 9, "tickOpacity": 0, "labelPadding": 7, "labelOffset": -4, "labelFontSize": 18, "labelOverlap": false}}}
        },
        {
          "data": {"values": [{}]},
          "mark": {"type": "rule", "color": "black", "strokeWidth": 1.5},
          "encoding": {"y": {"datum": 4.027, "axis": null}}
        },
        {
          "data": {"values": [{}]},
          "mark": {"type": "rule", "color": "black", "strokeWidth": 1.5},
          "encoding": {"x": {"datum": 0, "axis": null}, "y": {"datum": 3.9, "axis": null}, "y2": {"datum": 4.027}}
        },
        {
          "data": {"values": [{}]},
          "mark": {"type": "text", "text": "10,", "fontSize": 19, "align": "left", "baseline": "alphabetic", "color": "#222222"},
          "encoding": {"x": {"datum": 0.06, "axis": null}, "y": {"datum": 3.74, "axis": null}}
        },
        {
          "data": {"values": [{}]},
          "mark": {"type": "text", "text": "23,", "fontSize": 19, "align": "left", "baseline": "alphabetic", "color": "#222222"},
          "encoding": {"x": {"datum": 3.23, "axis": null}, "y": {"datum": 3.74, "axis": null}}
        },
        {
          "data": {"values": [{}]},
          "mark": {"type": "text", "text": "23,", "fontSize": 19, "align": "left", "baseline": "alphabetic", "color": "#222222"},
          "encoding": {"x": {"datum": 0.06, "axis": null}, "y": {"datum": 0.07, "axis": null}}
        },
        {
          "data": {"values": [{}]},
          "mark": {"type": "text", "text": "45,", "fontSize": 19, "align": "left", "baseline": "alphabetic", "color": "#222222"},
          "encoding": {"x": {"datum": 3.23, "axis": null}, "y": {"datum": 0.07, "axis": null}}
        },
        {
          "data": {"values": [{}]},
          "mark": {"type": "text", "text": "Mieloperoxidase", "fontSize": 32, "angle": 270, "align": "center", "baseline": "middle", "color": "black"},
          "encoding": {"x": {"datum": -1.19, "axis": null}, "y": {"datum": 1.72, "axis": null}}
        },
        {
          "data": {"values": [{}]},
          "mark": {"type": "rule", "color": "black", "strokeWidth": 3},
          "encoding": {"x": {"datum": -0.715, "axis": null}, "y": {"datum": 0.36, "axis": null}, "y2": {"datum": 3.3}}
        },
        {
          "data": {"values": [{}]},
          "mark": {"type": "point", "shape": "triangle-up", "filled": true, "size": 150, "color": "black", "opacity": 1},
          "encoding": {"x": {"datum": -0.715, "axis": null}, "y": {"datum": 3.345, "axis": null}}
        },
        {
          "data": {"values": [{}]},
          "mark": {"type": "text", "text": "Anexina V", "fontSize": 32, "align": "center", "baseline": "alphabetic", "color": "black"},
          "encoding": {"x": {"datum": -1.18, "axis": null}, "y": {"datum": -1.059, "axis": null}}
        },
        {
          "data": {"values": [{}]},
          "mark": {"type": "rule", "color": "black", "strokeWidth": 3},
          "encoding": {"x": {"datum": -4.568, "axis": null}, "x2": {"datum": 2.27}, "y": {"datum": -1.26, "axis": null}}
        },
        {
          "data": {"values": [{}]},
          "mark": {"type": "point", "shape": "triangle-right", "filled": true, "size": 160, "color": "black", "opacity": 1},
          "encoding": {"x": {"datum": 2.33, "axis": null}, "y": {"datum": -1.26, "axis": null}}
        }
      ]
    }
  ]
}
